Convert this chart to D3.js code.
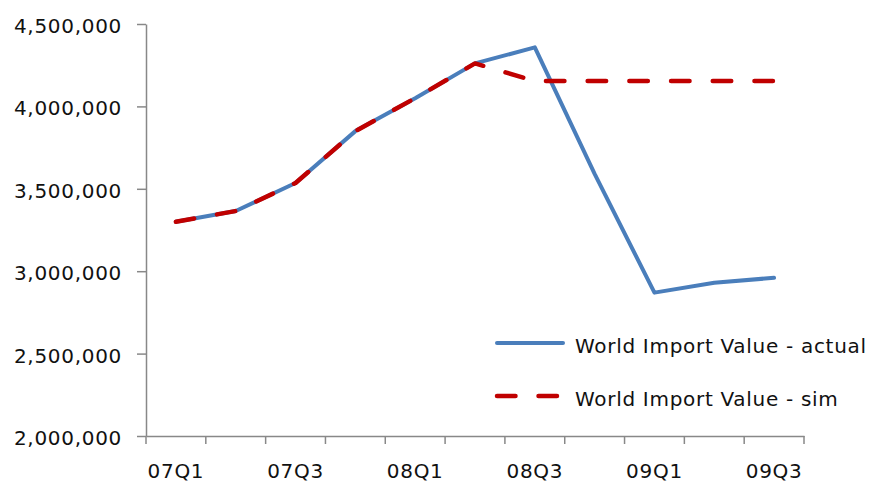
<!DOCTYPE html>
<html>
<head>
<meta charset="utf-8">
<script src="https://cdn.jsdelivr.net/npm/d3@7"></script>
<style>
  html, body { margin: 0; padding: 0; background: #fff; }
  svg text { font-family: "DejaVu Sans", Verdana, sans-serif; font-size: 20px; letter-spacing: 0.7px; fill: #111; }
</style>
</head>
<body>
<svg id="chart" width="873" height="483"></svg>
<script>
// Quarterly world import value, 2007Q1 - 2009Q3
const quarters = ["07Q1","07Q2","07Q3","07Q4","08Q1","08Q2","08Q3","08Q4","09Q1","09Q2","09Q3"];
const actualValues = [3300000, 3365000, 3535000, 3850000, 4050000, 4261000, 4358000, 3590000, 2870000, 2930000, 2960000];
const simValues    = [3300000, 3365000, 3535000, 3850000, 4050000, 4261000, 4154000, 4154000, 4154000, 4154000, 4154000];
const yTicks = [2000000, 2500000, 3000000, 3500000, 4000000, 4500000];
const xLabels = ["07Q1","07Q3","08Q1","08Q3","09Q1","09Q3"];
const seriesNames = ["World Import Value - actual", "World Import Value - sim"];

const svg = d3.select("#chart");
const plotLeft = 146, plotRight = 804, plotTop = 24, plotBottom = 436;
const axisColor = "#888";
const blue = "#4A7EBB", red = "#C00000";

const x = d3.scaleBand().domain(quarters).range([plotLeft, plotRight]).paddingInner(0).paddingOuter(0);
const y = d3.scaleLinear().domain([2000000, 4500000]).range([plotBottom, plotTop]);

// Y axis
const yAxis = svg.append("g")
  .attr("transform", `translate(${plotLeft},0)`)
  .call(d3.axisLeft(y).tickValues(yTicks).tickFormat(d3.format(",")).tickSize(9).tickPadding(15).tickSizeOuter(0));
yAxis.attr("font-size", null).attr("font-family", null);
yAxis.select(".domain").attr("stroke", axisColor).attr("stroke-width", 1.5);
yAxis.selectAll(".tick line").attr("stroke", axisColor).attr("stroke-width", 1.5);
yAxis.selectAll(".tick text").attr("dy", "0.42em");

// X axis: labels on every other quarter, tick marks on category boundaries
const xAxis = svg.append("g")
  .attr("transform", `translate(0,${plotBottom})`)
  .call(d3.axisBottom(x).tickValues(xLabels).tickSize(0).tickPadding(28).tickSizeOuter(0));
xAxis.attr("font-size", null).attr("font-family", null);
xAxis.select(".domain").attr("stroke", axisColor).attr("stroke-width", 1.5);
xAxis.selectAll(".tick text").attr("dy", "0.71em");
const boundaries = quarters.map(q => x(q)).concat([x(quarters[quarters.length - 1]) + x.bandwidth()]);
xAxis.selectAll("line.boundary")
  .data(boundaries)
  .join("line")
  .attr("class", "boundary")
  .attr("x1", d => d).attr("x2", d => d)
  .attr("y1", 0).attr("y2", 8)
  .attr("stroke", axisColor).attr("stroke-width", 1.5);

// Series lines
const line = d3.line()
  .x((d, i) => x(quarters[i]) + x.bandwidth() / 2)
  .y(d => y(d));

svg.append("path")
  .datum(actualValues)
  .attr("d", line)
  .attr("fill", "none")
  .attr("stroke", blue)
  .attr("stroke-width", 4)
  .attr("stroke-linejoin", "round")
  .attr("stroke-linecap", "round");

svg.append("path")
  .datum(simValues)
  .attr("d", line)
  .attr("fill", "none")
  .attr("stroke", red)
  .attr("stroke-width", 4.5)
  .attr("stroke-dasharray", "18.5,23.2")
  .attr("stroke-linejoin", "round")
  .attr("stroke-linecap", "round");

// Legend
const legend = svg.append("g");
const legendRows = [
  { name: seriesNames[0], color: blue, dash: null, width: 4, y: 343 },
  { name: seriesNames[1], color: red, dash: "18.5,23", width: 4.5, y: 396 }
];
legendRows.forEach(r => {
  legend.append("line")
    .attr("x1", 497).attr("x2", 563)
    .attr("y1", r.y).attr("y2", r.y)
    .attr("stroke", r.color)
    .attr("stroke-width", r.width)
    .attr("stroke-linecap", "round")
    .attr("stroke-dasharray", r.dash);
  legend.append("text")
    .attr("x", 575)
    .attr("y", r.y + 9.5)
    .text(r.name);
});
</script>
</body>
</html>
